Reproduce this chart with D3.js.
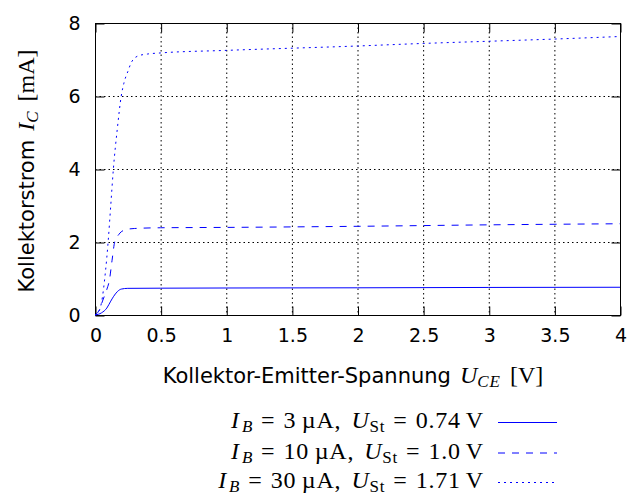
<!DOCTYPE html>
<html>
<head>
<meta charset="utf-8">
<script src="https://cdn.jsdelivr.net/npm/d3@7"></script>
<style>
  body { margin: 0; background: #fff; }
  .tick text { font-family: "DejaVu Sans", sans-serif; font-size: 19px; fill: #000; }
</style>
</head>
<body>
<div id="chart"></div>
<script>
// Kennlinien: [U_CE in V, I_C in mA]
var curve3uA = [[0,0],[0.05,0.06],[0.09,0.19],[0.12,0.38],[0.14,0.5],[0.17,0.64],[0.2,0.71],[0.25,0.73],[0.5,0.735],[1,0.74],[2,0.745],[3,0.755],[4,0.76]];
var curve10uA = [[0,0],[0.03,0.12],[0.06,0.41],[0.09,0.7],[0.11,0.96],[0.13,1.5],[0.15,2.0],[0.18,2.2],[0.2,2.28],[0.25,2.35],[0.3,2.37],[0.5,2.39],[1,2.4],[2,2.43],[3,2.47],[4,2.5]];
var curve30uA = [[0,0],[0.03,0.1],[0.05,0.35],[0.08,1.2],[0.1,2.0],[0.12,3.0],[0.14,4.0],[0.17,5.1],[0.2,6.0],[0.22,6.35],[0.25,6.67],[0.28,6.94],[0.33,7.1],[0.4,7.15],[0.5,7.18],[1,7.25],[2,7.37],[2.5,7.44],[3,7.5],[3.5,7.56],[4,7.63]];

var xTicks = [0, 0.5, 1, 1.5, 2, 2.5, 3, 3.5, 4];
var yTicks = [0, 2, 4, 6, 8];

var legendIB = ["3", "10", "30"];
var legendUSt = ["0.74", "1.0", "1.71"];

var width = 636;
var height = 495;
var pLeft = 95, pRight = 620, pTop = 23, pBottom = 315;
var tickLen = 9;
var blue = "#0000ff";
var dashes = [null, "7,7", "2,4"];
var serif = "Liberation Serif, serif";

var svg = d3.select("#chart").append("svg")
  .attr("width", width)
  .attr("height", height);

/* Scale */
var xScale = d3.scaleLinear().domain([0, 4]).range([pLeft, pRight]);
var yScale = d3.scaleLinear().domain([0, 8]).range([pBottom, pTop]);

/* Grid */
var grid = svg.append("g").attr("class", "grid")
  .attr("stroke", "#000")
  .attr("stroke-width", 1)
  .attr("stroke-dasharray", "1.5,3");

grid.selectAll(".gx")
  .data(xTicks.slice(1, -1)).enter()
  .append("line")
  .attr("x1", d => xScale(d) + 0.5).attr("x2", d => xScale(d) + 0.5)
  .attr("y1", pTop).attr("y2", pBottom);

grid.selectAll(".gy")
  .data(yTicks.slice(1, -1)).enter()
  .append("line")
  .attr("y1", d => yScale(d) + 0.5).attr("y2", d => yScale(d) + 0.5)
  .attr("x1", pLeft).attr("x2", pRight);

/* Axes, Ticks nach innen */
var fmt = d => String(d);

svg.append("g")
  .attr("transform", `translate(0.5, ${pBottom + 0.5})`)
  .call(d3.axisBottom(xScale).tickValues(xTicks).tickFormat(fmt).tickSize(-tickLen).tickPadding(13))
  .call(g => g.select(".domain").remove());

svg.append("g")
  .attr("transform", `translate(0.5, ${pTop + 0.5})`)
  .call(d3.axisTop(xScale).tickValues(xTicks).tickFormat("").tickSize(-tickLen))
  .call(g => g.select(".domain").remove());

svg.append("g")
  .attr("transform", `translate(${pLeft + 0.5}, 0.5)`)
  .call(d3.axisLeft(yScale).tickValues(yTicks).tickFormat(fmt).tickSize(-tickLen).tickPadding(15))
  .call(g => g.select(".domain").remove());

svg.append("g")
  .attr("transform", `translate(${pRight + 0.5}, 0.5)`)
  .call(d3.axisRight(yScale).tickValues(yTicks).tickFormat("").tickSize(-tickLen))
  .call(g => g.select(".domain").remove());

/* Rahmen */
svg.append("rect")
  .attr("x", pLeft + 0.5).attr("y", pTop + 0.5)
  .attr("width", pRight - pLeft).attr("height", pBottom - pTop)
  .attr("fill", "none").attr("stroke", "#000").attr("stroke-width", 1);

/* Kurven */
var line = d3.line()
  .x(d => xScale(d[0]))
  .y(d => yScale(d[1]))
  .curve(d3.curveMonotoneX);

var curves = [curve3uA, curve10uA, curve30uA];

svg.append("g").attr("class", "lines")
  .selectAll("path")
  .data(curves).enter()
  .append("path")
  .attr("d", d => line(d))
  .attr("fill", "none")
  .attr("stroke", blue)
  .attr("stroke-width", 1)
  .attr("stroke-dasharray", (d, i) => dashes[i]);

/* Achsentitel */
function mathLabel(t, sym, sub, unit) {
  t.append("tspan").attr("font-family", serif).attr("font-style", "italic").attr("font-size", 24).attr("dx", 9).text(sym);
  t.append("tspan").attr("font-family", serif).attr("font-style", "italic").attr("font-size", 17).attr("dy", 4).attr("letter-spacing", 1).text(sub);
  t.append("tspan").attr("font-family", serif).attr("font-size", 24).attr("dy", -4).attr("dx", 9).text("[" + unit + "]");
}

var xt = svg.append("text")
  .attr("x", 353).attr("y", 383)
  .attr("text-anchor", "middle")
  .attr("font-size", 21)
  .attr("font-family", "DejaVu Sans, sans-serif");
xt.append("tspan").text("Kollektor-Emitter-Spannung");
mathLabel(xt, "U", "CE", "V");

var yt = svg.append("text")
  .attr("transform", "translate(34, 171) rotate(-90)")
  .attr("text-anchor", "middle")
  .attr("font-size", 21)
  .attr("font-family", "DejaVu Sans, sans-serif");
yt.append("tspan").text("Kollektorstrom");
mathLabel(yt, "I", "C", "mA");

/* Legende */
var legendY = [428, 458.5, 488];
var eqGap = 8;
var legend = svg.selectAll(".legend")
  .data(legendIB).enter()
  .append("g")
  .attr("class", "legend");

legend.each(function(d, i) {
  var g = d3.select(this);
  var t = g.append("text")
    .attr("x", 484).attr("y", legendY[i])
    .attr("text-anchor", "end")
    .attr("font-family", serif)
    .attr("font-size", 24)
    .attr("letter-spacing", 0.8);
  t.append("tspan").attr("font-style", "italic").text("I");
  t.append("tspan").attr("font-style", "italic").attr("font-size", 17).attr("dy", 4).attr("dx", 2).text("B");
  t.append("tspan").attr("dy", -4).attr("dx", eqGap).text("=");
  t.append("tspan").attr("dx", eqGap).text(legendIB[i] + "\u2009\u00b5A,");
  t.append("tspan").attr("font-style", "italic").attr("dx", 10).text("U");
  t.append("tspan").attr("font-size", 17).attr("dy", 4).text("St");
  t.append("tspan").attr("dy", -4).attr("dx", eqGap).text("=");
  t.append("tspan").attr("dx", eqGap).text(legendUSt[i]);
  t.append("tspan").attr("dx", 5).text("V");

  g.append("line")
    .attr("x1", 498).attr("x2", 557)
    .attr("y1", legendY[i] - 5.5).attr("y2", legendY[i] - 5.5)
    .attr("stroke", blue)
    .attr("stroke-width", 1)
    .attr("stroke-dasharray", dashes[i]);
});
</script>
</body>
</html>
